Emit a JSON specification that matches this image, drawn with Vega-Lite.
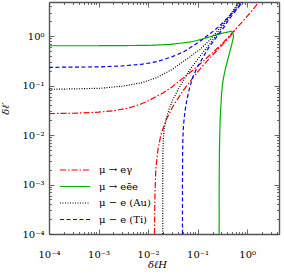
{
  "$schema": "https://vega.github.io/schema/vega-lite/v6.json",
  "width": 230,
  "height": 232,
  "autosize": {"type": "none"},
  "padding": {"left": 49, "top": 2, "right": 5, "bottom": 40},
  "config": {
    "view": {"stroke": null},
    "axis": {
      "domainColor": "#555",
      "domainWidth": 1.4,
      "tickColor": "#444",
      "tickWidth": 0.8,
      "grid": false,
      "labelFont": "DejaVu Serif",
      "labelFontSize": 10,
      "labelColor": "#000",
      "titleFont": "DejaVu Serif",
      "titleFontSize": 10,
      "titleFontWeight": "normal",
      "titleFontStyle": "italic",
      "titleColor": "#000",
      "labelFlush": false,
      "labelOverlap": false,
      "labelBound": false
    },
    "legend": {
      "symbolType": "M-5,0H5",
      "symbolSize": 36,
      "symbolStrokeWidth": 1.2,
      "labelFont": "DejaVu Serif",
      "labelFontSize": 10,
      "labelColor": "#000",
      "labelOffset": 19,
      "rowPadding": 6.5,
      "padding": 0
    }
  },
  "data": {
    "values": [
      {"p": "μ → eγ", "c": "R1", "i": 0, "x": 0.0001, "y": 0.0272},
      {"p": "μ → eγ", "c": "R1", "i": 1, "x": 0.0003, "y": 0.0276},
      {"p": "μ → eγ", "c": "R1", "i": 2, "x": 0.001, "y": 0.029},
      {"p": "μ → eγ", "c": "R1", "i": 3, "x": 0.002, "y": 0.031},
      {"p": "μ → eγ", "c": "R1", "i": 4, "x": 0.004, "y": 0.035},
      {"p": "μ → eγ", "c": "R1", "i": 5, "x": 0.007, "y": 0.042},
      {"p": "μ → eγ", "c": "R1", "i": 6, "x": 0.01, "y": 0.049},
      {"p": "μ → eγ", "c": "R1", "i": 7, "x": 0.02, "y": 0.071},
      {"p": "μ → eγ", "c": "R1", "i": 8, "x": 0.03, "y": 0.093},
      {"p": "μ → eγ", "c": "R1", "i": 9, "x": 0.05, "y": 0.14},
      {"p": "μ → eγ", "c": "R1", "i": 10, "x": 0.08, "y": 0.205},
      {"p": "μ → eγ", "c": "R1", "i": 11, "x": 0.12, "y": 0.29},
      {"p": "μ → eγ", "c": "R1", "i": 12, "x": 0.18, "y": 0.42},
      {"p": "μ → eγ", "c": "R1", "i": 13, "x": 0.28, "y": 0.63},
      {"p": "μ → eγ", "c": "R1", "i": 14, "x": 0.4, "y": 0.91},
      {"p": "μ → eγ", "c": "R1", "i": 15, "x": 0.55, "y": 1.3},
      {"p": "μ → eγ", "c": "R1", "i": 16, "x": 0.8, "y": 1.95},
      {"p": "μ → eγ", "c": "R1", "i": 17, "x": 1.15, "y": 2.95},
      {"p": "μ → eγ", "c": "R1", "i": 18, "x": 1.5, "y": 4.1},
      {"p": "μ → eγ", "c": "R1", "i": 19, "x": 1.8, "y": 5.4},
      {"p": "μ → eγ", "c": "R2", "i": 0, "x": 0.0135, "y": 0.0001},
      {"p": "μ → eγ", "c": "R2", "i": 1, "x": 0.0137, "y": 0.0005},
      {"p": "μ → eγ", "c": "R2", "i": 2, "x": 0.0143, "y": 0.002},
      {"p": "μ → eγ", "c": "R2", "i": 3, "x": 0.0158, "y": 0.005},
      {"p": "μ → eγ", "c": "R2", "i": 4, "x": 0.0181, "y": 0.01},
      {"p": "μ → eγ", "c": "R2", "i": 5, "x": 0.023, "y": 0.02},
      {"p": "μ → eγ", "c": "R2", "i": 6, "x": 0.0327, "y": 0.04},
      {"p": "μ → eγ", "c": "R2", "i": 7, "x": 0.0515, "y": 0.08},
      {"p": "μ → eγ", "c": "R2", "i": 8, "x": 0.083, "y": 0.15},
      {"p": "μ → eγ", "c": "R2", "i": 9, "x": 0.126, "y": 0.25},
      {"p": "μ → eγ", "c": "R2", "i": 10, "x": 0.194, "y": 0.4},
      {"p": "μ → eγ", "c": "R2", "i": 11, "x": 0.285, "y": 0.6},
      {"p": "μ → eγ", "c": "R2", "i": 12, "x": 0.395, "y": 0.85},
      {"p": "μ → eγ", "c": "R2", "i": 13, "x": 0.52, "y": 1.17},
      {"p": "μ → eγ", "c": "R2", "i": 14, "x": 0.6, "y": 1.4},
      {"p": "μ → eēe", "c": "G1", "i": 0, "x": 0.0001, "y": 0.64},
      {"p": "μ → eēe", "c": "G1", "i": 1, "x": 0.001, "y": 0.64},
      {"p": "μ → eēe", "c": "G1", "i": 2, "x": 0.01, "y": 0.65},
      {"p": "μ → eēe", "c": "G1", "i": 3, "x": 0.028, "y": 0.68},
      {"p": "μ → eēe", "c": "G1", "i": 4, "x": 0.077, "y": 0.77},
      {"p": "μ → eēe", "c": "G1", "i": 5, "x": 0.15, "y": 0.92},
      {"p": "μ → eēe", "c": "G1", "i": 6, "x": 0.226, "y": 1.05},
      {"p": "μ → eēe", "c": "G1", "i": 7, "x": 0.32, "y": 1.15},
      {"p": "μ → eēe", "c": "G1", "i": 8, "x": 0.42, "y": 1.22},
      {"p": "μ → eēe", "c": "G1", "i": 9, "x": 0.475, "y": 1.26},
      {"p": "μ → eēe", "c": "G1", "i": 10, "x": 0.515, "y": 1.18},
      {"p": "μ → eēe", "c": "G1", "i": 11, "x": 0.53, "y": 0.97},
      {"p": "μ → eēe", "c": "G1", "i": 12, "x": 0.486, "y": 0.657},
      {"p": "μ → eēe", "c": "G1", "i": 13, "x": 0.454, "y": 0.52},
      {"p": "μ → eēe", "c": "G1", "i": 14, "x": 0.404, "y": 0.327},
      {"p": "μ → eēe", "c": "G1", "i": 15, "x": 0.359, "y": 0.206},
      {"p": "μ → eēe", "c": "G1", "i": 16, "x": 0.327, "y": 0.129},
      {"p": "μ → eēe", "c": "G1", "i": 17, "x": 0.305, "y": 0.0706},
      {"p": "μ → eēe", "c": "G1", "i": 18, "x": 0.285, "y": 0.0201},
      {"p": "μ → eēe", "c": "G1", "i": 19, "x": 0.276, "y": 0.005},
      {"p": "μ → eēe", "c": "G1", "i": 20, "x": 0.273, "y": 0.001},
      {"p": "μ → eēe", "c": "G1", "i": 21, "x": 0.272, "y": 0.0001},
      {"p": "μ − e (Au)", "c": "K1", "i": 0, "x": 0.0001, "y": 0.084},
      {"p": "μ − e (Au)", "c": "K1", "i": 1, "x": 0.001, "y": 0.088},
      {"p": "μ − e (Au)", "c": "K1", "i": 2, "x": 0.003, "y": 0.097},
      {"p": "μ − e (Au)", "c": "K1", "i": 3, "x": 0.0076, "y": 0.115},
      {"p": "μ − e (Au)", "c": "K1", "i": 4, "x": 0.015, "y": 0.145},
      {"p": "μ − e (Au)", "c": "K1", "i": 5, "x": 0.03, "y": 0.21},
      {"p": "μ − e (Au)", "c": "K1", "i": 6, "x": 0.045, "y": 0.28},
      {"p": "μ − e (Au)", "c": "K1", "i": 7, "x": 0.07, "y": 0.38},
      {"p": "μ − e (Au)", "c": "K1", "i": 8, "x": 0.112, "y": 0.54},
      {"p": "μ − e (Au)", "c": "K1", "i": 9, "x": 0.18, "y": 0.85},
      {"p": "μ − e (Au)", "c": "K1", "i": 10, "x": 0.28, "y": 1.45},
      {"p": "μ − e (Au)", "c": "K1", "i": 11, "x": 0.4, "y": 2.3},
      {"p": "μ − e (Au)", "c": "K1", "i": 12, "x": 0.5, "y": 3.1},
      {"p": "μ − e (Au)", "c": "K1", "i": 13, "x": 0.6, "y": 4.0},
      {"p": "μ − e (Au)", "c": "K1", "i": 14, "x": 0.7, "y": 5.0},
      {"p": "μ − e (Au)", "c": "K2", "i": 0, "x": 0.0198, "y": 0.0001},
      {"p": "μ − e (Au)", "c": "K2", "i": 1, "x": 0.0198, "y": 0.001},
      {"p": "μ − e (Au)", "c": "K2", "i": 2, "x": 0.0199, "y": 0.004},
      {"p": "μ − e (Au)", "c": "K2", "i": 3, "x": 0.0203, "y": 0.008},
      {"p": "μ − e (Au)", "c": "K2", "i": 4, "x": 0.021, "y": 0.013},
      {"p": "μ − e (Au)", "c": "K2", "i": 5, "x": 0.0235, "y": 0.022},
      {"p": "μ − e (Au)", "c": "K2", "i": 6, "x": 0.027, "y": 0.035},
      {"p": "μ − e (Au)", "c": "K2", "i": 7, "x": 0.032, "y": 0.053},
      {"p": "μ − e (Au)", "c": "K2", "i": 8, "x": 0.04, "y": 0.082},
      {"p": "μ − e (Au)", "c": "K2", "i": 9, "x": 0.05, "y": 0.12},
      {"p": "μ − e (Au)", "c": "K2", "i": 10, "x": 0.07, "y": 0.21},
      {"p": "μ − e (Au)", "c": "K2", "i": 11, "x": 0.1, "y": 0.34},
      {"p": "μ − e (Au)", "c": "K2", "i": 12, "x": 0.14, "y": 0.52},
      {"p": "μ − e (Au)", "c": "K2", "i": 13, "x": 0.2, "y": 0.82},
      {"p": "μ − e (Au)", "c": "K2", "i": 14, "x": 0.28, "y": 1.3},
      {"p": "μ − e (Au)", "c": "K2", "i": 15, "x": 0.4, "y": 2.15},
      {"p": "μ − e (Au)", "c": "K2", "i": 16, "x": 0.5, "y": 2.95},
      {"p": "μ − e (Au)", "c": "K2", "i": 17, "x": 0.6, "y": 3.85},
      {"p": "μ − e (Au)", "c": "K2", "i": 18, "x": 0.7, "y": 4.85},
      {"p": "μ − e (Au)", "c": "K2", "i": 19, "x": 0.72, "y": 5.1},
      {"p": "μ − e (Ti)", "c": "B1", "i": 0, "x": 0.0001, "y": 0.234},
      {"p": "μ − e (Ti)", "c": "B1", "i": 1, "x": 0.001, "y": 0.239},
      {"p": "μ − e (Ti)", "c": "B1", "i": 2, "x": 0.003, "y": 0.25},
      {"p": "μ − e (Ti)", "c": "B1", "i": 3, "x": 0.0076, "y": 0.27},
      {"p": "μ − e (Ti)", "c": "B1", "i": 4, "x": 0.015, "y": 0.305},
      {"p": "μ − e (Ti)", "c": "B1", "i": 5, "x": 0.03, "y": 0.38},
      {"p": "μ − e (Ti)", "c": "B1", "i": 6, "x": 0.052, "y": 0.48},
      {"p": "μ − e (Ti)", "c": "B1", "i": 7, "x": 0.08, "y": 0.63},
      {"p": "μ − e (Ti)", "c": "B1", "i": 8, "x": 0.12, "y": 0.83},
      {"p": "μ − e (Ti)", "c": "B1", "i": 9, "x": 0.17, "y": 1.08},
      {"p": "μ − e (Ti)", "c": "B1", "i": 10, "x": 0.23, "y": 1.36},
      {"p": "μ − e (Ti)", "c": "B1", "i": 11, "x": 0.32, "y": 1.85},
      {"p": "μ − e (Ti)", "c": "B1", "i": 12, "x": 0.42, "y": 2.45},
      {"p": "μ − e (Ti)", "c": "B1", "i": 13, "x": 0.55, "y": 3.2},
      {"p": "μ − e (Ti)", "c": "B1", "i": 14, "x": 0.65, "y": 3.8},
      {"p": "μ − e (Ti)", "c": "B1", "i": 15, "x": 0.8, "y": 4.9},
      {"p": "μ − e (Ti)", "c": "B1", "i": 16, "x": 0.85, "y": 5.3},
      {"p": "μ − e (Ti)", "c": "B2", "i": 0, "x": 0.0495, "y": 0.0001},
      {"p": "μ − e (Ti)", "c": "B2", "i": 1, "x": 0.0495, "y": 0.001},
      {"p": "μ − e (Ti)", "c": "B2", "i": 2, "x": 0.0498, "y": 0.004},
      {"p": "μ − e (Ti)", "c": "B2", "i": 3, "x": 0.0505, "y": 0.009},
      {"p": "μ − e (Ti)", "c": "B2", "i": 4, "x": 0.052, "y": 0.016},
      {"p": "μ − e (Ti)", "c": "B2", "i": 5, "x": 0.055, "y": 0.028},
      {"p": "μ − e (Ti)", "c": "B2", "i": 6, "x": 0.06, "y": 0.048},
      {"p": "μ − e (Ti)", "c": "B2", "i": 7, "x": 0.068, "y": 0.085},
      {"p": "μ − e (Ti)", "c": "B2", "i": 8, "x": 0.08, "y": 0.15},
      {"p": "μ − e (Ti)", "c": "B2", "i": 9, "x": 0.1, "y": 0.24},
      {"p": "μ − e (Ti)", "c": "B2", "i": 10, "x": 0.13, "y": 0.38},
      {"p": "μ − e (Ti)", "c": "B2", "i": 11, "x": 0.17, "y": 0.6},
      {"p": "μ − e (Ti)", "c": "B2", "i": 12, "x": 0.23, "y": 0.9},
      {"p": "μ − e (Ti)", "c": "B2", "i": 13, "x": 0.32, "y": 1.38},
      {"p": "μ − e (Ti)", "c": "B2", "i": 14, "x": 0.42, "y": 2.1},
      {"p": "μ − e (Ti)", "c": "B2", "i": 15, "x": 0.55, "y": 3.0},
      {"p": "μ − e (Ti)", "c": "B2", "i": 16, "x": 0.65, "y": 3.7},
      {"p": "μ − e (Ti)", "c": "B2", "i": 17, "x": 0.75, "y": 4.5},
      {"p": "μ − e (Ti)", "c": "B2", "i": 18, "x": 0.85, "y": 5.3}
    ]
  },
  "layer": [
    {
      "mark": {"type": "line", "clip": true, "strokeWidth": 1.2},
      "encoding": {
        "x": {
          "field": "x", "type": "quantitative",
          "scale": {"type": "log", "domain": [0.0001, 4.4], "nice": false},
          "axis": {
            "orient": "bottom",
            "title": "δℓH",
            "titleX": 108, "titleY": 30, "titleBaseline": "middle",
            "values": [0.0001,0.0002,0.0003,0.0004,0.0005,0.0006,0.0007,0.0008,0.0009,0.001,0.002,0.003,0.004,0.005,0.006,0.007,0.008,0.009,0.01,0.02,0.03,0.04,0.05,0.06,0.07,0.08,0.09,0.1,0.2,0.3,0.4,0.5,0.6,0.7,0.8,0.9,1,2,3,4],
            "labelExpr": "datum.value == 0.0001 ? '10⁻⁴' : datum.value == 0.001 ? '10⁻³' : datum.value == 0.01 ? '10⁻²' : datum.value == 0.1 ? '10⁻¹' : datum.value == 1 ? '10⁰' : ''",
            "tickSize": {"condition": {"test": "indexof([0.0001,0.001,0.01,0.1,1], datum.value) >= 0", "value": -5}, "value": -2.5},
            "labelPadding": 20
          }
        },
        "y": {
          "field": "y", "type": "quantitative",
          "scale": {"type": "log", "domain": [0.0001, 4.9], "nice": false},
          "axis": {
            "orient": "left",
            "title": "δℓ′",
            "titleX": -44, "titleY": 106, "titleBaseline": "middle", "titleAngle": -90,
            "values": [0.0001,0.0002,0.0003,0.0004,0.0005,0.0006,0.0007,0.0008,0.0009,0.001,0.002,0.003,0.004,0.005,0.006,0.007,0.008,0.009,0.01,0.02,0.03,0.04,0.05,0.06,0.07,0.08,0.09,0.1,0.2,0.3,0.4,0.5,0.6,0.7,0.8,0.9,1,2,3,4],
            "labelExpr": "datum.value == 0.0001 ? '10⁻⁴' : datum.value == 0.001 ? '10⁻³' : datum.value == 0.01 ? '10⁻²' : datum.value == 0.1 ? '10⁻¹' : datum.value == 1 ? '10⁰' : ''",
            "tickSize": {"condition": {"test": "indexof([0.0001,0.001,0.01,0.1,1], datum.value) >= 0", "value": -5}, "value": -2.5},
            "labelPadding": 10
          }
        },
        "color": {
          "field": "p", "type": "nominal",
          "scale": {"domain": ["μ → eγ", "μ → eēe", "μ − e (Au)", "μ − e (Ti)"], "range": ["#ff0000", "#00b000", "#000000", "#0000ff"]},
          "legend": {"title": null, "orient": "none", "legendX": 21, "legendY": 163}
        },
        "strokeDash": {
          "field": "p", "type": "nominal",
          "scale": {"domain": ["μ → eγ", "μ → eēe", "μ − e (Au)", "μ − e (Ti)"], "range": [[6, 2, 1.5, 2], [1, 0], [1, 1.5], [4, 2.5]]},
          "legend": {"title": null, "orient": "none", "legendX": 21, "legendY": 163}
        },
        "detail": {"field": "c", "type": "nominal"},
        "order": {"field": "i", "type": "quantitative"}
      }
    },
    {
      "mark": {"type": "point", "opacity": 0, "size": 1},
      "encoding": {
        "x": {
          "field": "x", "type": "quantitative",
          "scale": {"type": "log", "domain": [0.0001, 4.4], "nice": false},
          "axis": {
            "orient": "top", "title": null, "labels": false,
            "values": [0.0001,0.0002,0.0003,0.0004,0.0005,0.0006,0.0007,0.0008,0.0009,0.001,0.002,0.003,0.004,0.005,0.006,0.007,0.008,0.009,0.01,0.02,0.03,0.04,0.05,0.06,0.07,0.08,0.09,0.1,0.2,0.3,0.4,0.5,0.6,0.7,0.8,0.9,1,2,3,4],
            "tickSize": {"condition": {"test": "indexof([0.0001,0.001,0.01,0.1,1], datum.value) >= 0", "value": -5}, "value": -2.5}
          }
        },
        "y": {
          "field": "y", "type": "quantitative",
          "scale": {"type": "log", "domain": [0.0001, 4.9], "nice": false},
          "axis": {
            "orient": "right", "title": null, "labels": false,
            "values": [0.0001,0.0002,0.0003,0.0004,0.0005,0.0006,0.0007,0.0008,0.0009,0.001,0.002,0.003,0.004,0.005,0.006,0.007,0.008,0.009,0.01,0.02,0.03,0.04,0.05,0.06,0.07,0.08,0.09,0.1,0.2,0.3,0.4,0.5,0.6,0.7,0.8,0.9,1,2,3,4],
            "tickSize": {"condition": {"test": "indexof([0.0001,0.001,0.01,0.1,1], datum.value) >= 0", "value": -5}, "value": -2.5}
          }
        }
      }
    }
  ],
  "resolve": {"axis": {"x": "independent", "y": "independent"}}
}
